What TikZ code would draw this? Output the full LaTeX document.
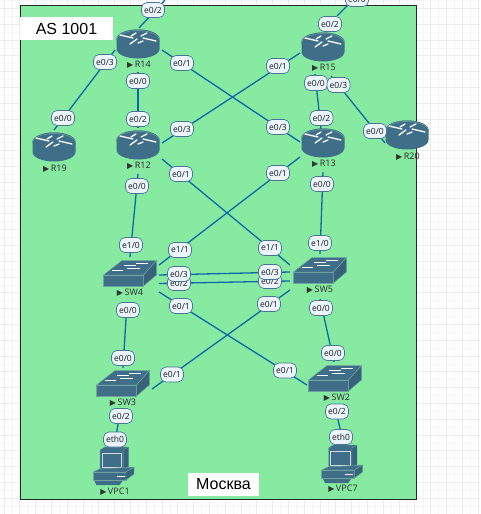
\documentclass[tikz,border=0pt]{standalone}
\usepackage{fontspec}
\setmainfont{Liberation Sans}
\newfontfamily\lblfont{Noto Sans}
\newfontfamily\dvfont{DejaVu Sans}
\usetikzlibrary{calc}
\definecolor{zone}{HTML}{86EBA0}
\definecolor{devfill}{HTML}{3F6E88}
\definecolor{devdark}{HTML}{38627A}
\definecolor{devline}{HTML}{6FA3A0}
\definecolor{linkc}{HTML}{0F68A8}
\definecolor{lblfill}{HTML}{EAF5FD}
\definecolor{lbledge}{HTML}{4A7396}
\definecolor{gridc}{HTML}{EBEBEB}
\definecolor{gridm}{HTML}{F5F5F5}
\tikzset{
  x=1pt,y=-1pt,
  dev/.style={inner sep=0pt,minimum width=40pt,minimum height=26pt},
  link/.style={draw=linkc,line width=1.3pt},
  iflabel/.style={draw=lbledge,fill=lblfill,line width=0.7pt,rounded corners=5.5pt,inner sep=0pt,minimum width=23pt,minimum height=15pt,font=\lblfont\fontsize{8.5}{9}\selectfont,text=black!85},
  devlabel/.style={inner sep=0pt,font=\lblfont\fontsize{9}{10}\selectfont,text=black!80},
  whitebox/.style={fill=white,inner sep=0pt,font=\fontsize{16}{18}\selectfont},
  pics/router/.style={code={
    \path[fill=devfill] (-21.5,-5) arc[start angle=180,end angle=360,x radius=21.5,y radius=9.5] -- (21.5,5) arc[start angle=0,end angle=180,x radius=21.5,y radius=9.5] -- cycle;
    \path[fill=devfill] (0,-5) ellipse[x radius=21.5,y radius=9.5];
    \draw[devline,line width=0.5pt] (-21.5,-4) arc[start angle=180,end angle=360,x radius=21.5,y radius=9.5];
    \foreach \a/\b/\c/\d in {-18/-9/-5/-6, 5/-6/18/-3, -2/-11/-7/-8, 9/-11/3/-8, -8/0/-1/-5, 5/-3/0/-1}{
      \draw[white,line width=1.3pt,line cap=round] (\a,\b) -- (\c,\d);
    }
  }},
  pics/switchicon/.style={code={
    \path[fill=devfill,draw=devline,line width=0.5pt] (-26.5,2) -- (-8,-12.5) -- (26.5,-12.5) -- (13.5,2) -- cycle;
    \path[fill=devfill,draw=devline,line width=0.5pt] (-26.5,2) -- (13.5,2) -- (13.5,13) -- (-26.5,13) -- cycle;
    \path[fill=devdark,draw=devline,line width=0.5pt] (13.5,2) -- (26.5,-12.5) -- (26.5,2) -- (13.5,13) -- cycle;
    \foreach \a/\b/\c/\d in {-6/-8/6/-8, 6/-10/18/-10, -18/-3/-7/-3, -3/-5/10/-5}{
      \draw[white,line width=0.9pt] (\a,\b) -- (\c,\d);
    }
  }},
  pics/pcicon/.style={code={
    \path[fill=devdark] (-4,-19) -- (15,-19) -- (15,1) -- (10,3) -- (-4,3) -- cycle;
    \path[fill=devfill,draw=devline,line width=0.4pt] (-13.5,-16) -- (-9,-19) -- (15,-19) -- (10,-16) -- (10,3) -- (-13.5,3) -- cycle;
    \path[fill=devfill,draw=white!75!devfill,line width=0.8pt] (-11.5,-13) rectangle (8,1);
    \path[fill=devfill,draw=devline,line width=0.4pt] (-20.5,6) -- (-14,3) -- (20.5,1) -- (12.5,6) -- cycle;
    \path[fill=devfill,draw=devline,line width=0.4pt] (-20.5,6) -- (12.5,6) -- (12.5,14) -- (-20.5,14) -- cycle;
    \path[fill=devdark,draw=devline,line width=0.4pt] (12.5,6) -- (20.5,1) -- (20.5,8) -- (12.5,14) -- cycle;
    \draw[white,line width=1pt] (3,10) -- (11,10);
    \path[fill=devfill] (-19,15) -- (9,15) -- (6,19) -- (-17,19) -- cycle;
  }}
}
\newcommand{\tri}{{\dvfont\fontsize{8}{8}\selectfont\char"25B6}\,}
\begin{document}
\begin{tikzpicture}
\clip (0,0) rectangle (480,514);
\fill[white] (0,0) rectangle (480,514);
% grid paper
\foreach \g in {12,27.8,...,477}{\draw[gridm,line width=0.5pt] (\g,0) -- (\g,514);}
\foreach \g in {0.5,16.3,...,513}{\draw[gridm,line width=0.5pt] (0,\g) -- (480,\g);}
\foreach \g in {4,19.8,...,479}{\draw[gridc,line width=0.7pt] (\g,0) -- (\g,514);}
\foreach \g in {8.4,24.2,...,513.5}{\draw[gridc,line width=0.7pt] (0,\g) -- (480,\g);}
% zone
\node[draw=black!85,fill=zone,line width=0.8pt,inner sep=0pt,minimum width=395.5pt,minimum height=494pt] (zone) at (218.25,252) {};
\node[whitebox,minimum width=93pt,minimum height=23pt] (as) at (66.5,28.5) {AS 1001};
\node[whitebox,minimum width=71pt,minimum height=23pt] (msk) at (223.5,484.5) {Москва};
% devices
\node[dev] (r14) at (138,44) {}; \pic at (r14.center) {router};
\node[dev] (r12) at (138,145) {}; \pic at (r12.center) {router};
\node[dev] (r19) at (54,147) {}; \pic at (r19.center) {router};
\node[dev] (r15) at (323,47) {}; \pic at (r15.center) {router};
\node[dev] (r13) at (323,143) {}; \pic at (r13.center) {router};
\node[dev] (r20) at (407,135) {}; \pic at (r20.center) {router};
\node[dev] (sw4) at (130,273) {}; \pic at (sw4.center) {switchicon};
\node[dev] (sw5) at (320,270) {}; \pic at (sw5.center) {switchicon};
\node[dev] (sw3) at (123,383) {}; \pic at (sw3.center) {switchicon};
\node[dev] (sw2) at (335,378) {}; \pic at (sw2.center) {switchicon};
\node[dev] (vpc1) at (113.5,466) {}; \pic at (vpc1.center) {pcicon};
\node[dev] (vpc7) at (342,464) {}; \pic at (vpc7.center) {pcicon};
\node[devlabel] (r14t) at (139,65) {\tri R14};
\node[devlabel] (r12t) at (139,166) {\tri R12};
\node[devlabel] (r19t) at (55,169) {\tri R19};
\node[devlabel] (r15t) at (324,67.5) {\tri R15};
\node[devlabel] (r13t) at (324,164) {\tri R13};
\node[devlabel] (r20t) at (408,156.5) {\tri R20};
\node[devlabel] (sw4t) at (130,292.5) {\tri SW4};
\node[devlabel] (sw5t) at (320,289.5) {\tri SW5};
\node[devlabel] (sw3t) at (123,402.5) {\tri SW3};
\node[devlabel] (sw2t) at (337,397.5) {\tri SW2};
\node[devlabel] (vpc1t) at (115,492) {\tri VPC1};
\node[devlabel] (vpc7t) at (343,489) {\tri VPC7};
\coordinate (offa) at (165,0);
\coordinate (offb) at (360,-7);
% links
\draw[link] ([shift={(1,-16)}]r14.center) -- (offa);
\draw[link] ([shift={(14,-31)}]r15.center) -- (offb);
\draw[link] ([shift={(-23,6)}]r14.center) -- ([shift={(0,-17)}]r19.center);
\draw[link] ([shift={(24,6)}]r14.center) -- ([shift={(-23,-1)}]r13.center);
\draw[link] ([shift={(0,28)}]r14.center) -- ([shift={(0,-17)}]r12.center);
\draw[link] ([shift={(24,-2)}]r12.center) -- ([shift={(-23,6)}]r15.center);
\draw[link] ([shift={(24,14)}]r12.center) -- ([shift={(-30,-5)}]sw5.center);
\draw[link] ([shift={(-23,14)}]r13.center) -- ([shift={(29,-8)}]sw4.center);
\draw[link] ([shift={(0,29)}]r12.center) -- ([shift={(0,-16)}]sw4.center);
\draw[link] ([shift={(0,29)}]r13.center) -- ([shift={(0,-16)}]sw5.center);
\draw[link] ([shift={(-8,27)}]r15.center) -- ([shift={(-2,-14)}]r13.center);
\draw[link] ([shift={(8,29)}]r15.center) -- ([shift={(-22,8)}]r20.center);
\draw[link] ([shift={(29,2)}]sw4.center) -- ([shift={(-30,2)}]sw5.center);
\draw[link] ([shift={(29,10.5)}]sw4.center) -- ([shift={(-30,11)}]sw5.center);
\draw[link] ([shift={(29,19)}]sw4.center) -- ([shift={(-28,7)}]sw2.center);
\draw[link] ([shift={(-30,20)}]sw5.center) -- ([shift={(29,6)}]sw3.center);
\draw[link] ([shift={(-3,29)}]sw4.center) -- ([shift={(0,-15)}]sw3.center);
\draw[link] ([shift={(0,29)}]sw5.center) -- ([shift={(-1,-16)}]sw2.center);
\draw[link] ([shift={(-3,29)}]sw3.center) -- ([shift={(1.5,-23)}]vpc1.center);
\draw[link] ([shift={(0,29)}]sw2.center) -- ([shift={(1,-23)}]vpc7.center);
% interface labels
\node[iflabel] (a1) at (153,10) {e0/2};
\node[iflabel] (a2) at (357,-1) {e0/0};
\node[iflabel] (a3) at (330,24) {e0/2};
\node[iflabel] (a4) at (105,62) {e0/3};
\node[iflabel] (a5) at (63,118) {e0/0};
\node[iflabel] (a6) at (182,63) {e0/1};
\node[iflabel] (a7) at (278,127) {e0/3};
\node[iflabel] (a8) at (138,81) {e0/0};
\node[iflabel] (a9) at (138,119) {e0/2};
\node[iflabel] (a10) at (182,129) {e0/3};
\node[iflabel] (a11) at (278,66) {e0/1};
\node[iflabel] (a12) at (181,174) {e0/1};
\node[iflabel] (a13) at (270,248) {e1/1};
\node[iflabel] (a14) at (278,173) {e0/1};
\node[iflabel] (a15) at (180,250) {e1/1};
\node[iflabel] (a16) at (137,186) {e0/0};
\node[iflabel] (a17) at (131,245) {e1/0};
\node[iflabel] (a18) at (322,184) {e0/0};
\node[iflabel] (a19) at (320,243) {e1/0};
\node[iflabel] (a20) at (316,83) {e0/0};
\node[iflabel] (a21) at (321.5,118) {e0/2};
\node[iflabel] (a22) at (338.5,85) {e0/3};
\node[iflabel] (a23) at (375,131) {e0/0};
\node[iflabel] (a24) at (179,283) {e0/2};
\node[iflabel] (a25) at (179,274) {e0/3};
\node[iflabel] (a26) at (270,281) {e0/2};
\node[iflabel] (a27) at (270,272) {e0/3};
\node[iflabel] (a28) at (181,306) {e0/1};
\node[iflabel] (a29) at (269,304) {e0/1};
\node[iflabel] (a30) at (128,310) {e0/0};
\node[iflabel] (a31) at (321,308) {e0/0};
\node[iflabel] (a32) at (123,358) {e0/0};
\node[iflabel] (a33) at (172,374.5) {e0/1};
\node[iflabel] (a34) at (285,370.5) {e0/1};
\node[iflabel] (a35) at (333,353) {e0/0};
\node[iflabel] (a36) at (121,416) {e0/2};
\node[iflabel] (a37) at (337,411.5) {e0/2};
\node[iflabel] (a38) at (115,439.5) {eth0};
\node[iflabel] (a39) at (341,437) {eth0};
\end{tikzpicture}
\end{document}
